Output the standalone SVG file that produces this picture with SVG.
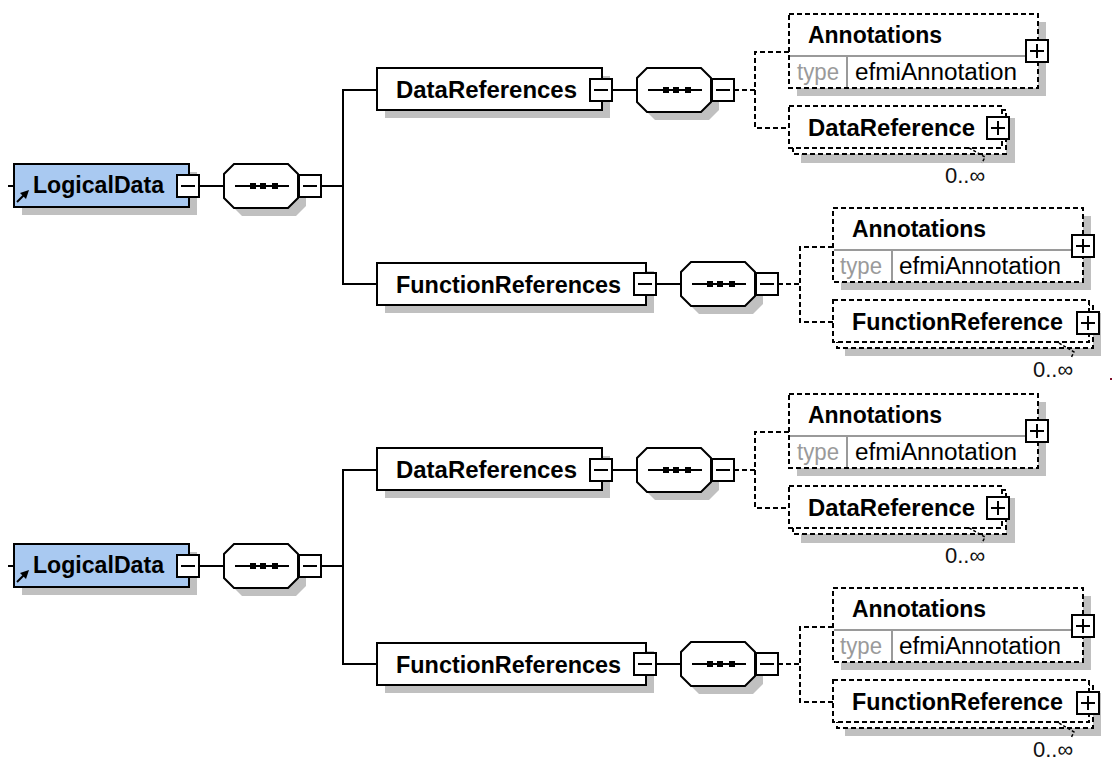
<svg xmlns="http://www.w3.org/2000/svg" width="1112" height="761" viewBox="0 0 1112 761">
<style>
.ln{stroke:#000;stroke-width:2;fill:none}
.dl{stroke:#000;stroke-width:2;fill:none;stroke-dasharray:5 3}
.box{fill:#fff;stroke:#000;stroke-width:2}
.dbox{fill:#fff;stroke:#000;stroke-width:2;stroke-dasharray:5 3}
.ref{fill:#a9c9f1;stroke:#000;stroke-width:2}
.sh{fill:#c0c0c0}
.sep{stroke:#9a9a9a;stroke-width:2;fill:none}
.b{font-family:"Liberation Sans",Arial,sans-serif;font-weight:bold;font-size:23px;fill:#000}
.r{font-family:"Liberation Sans",Arial,sans-serif;font-size:23px;fill:#000}
.g{font-family:"Liberation Sans",Arial,sans-serif;font-size:23px;fill:#9a9a9a}
.c{font-family:"Liberation Sans",Arial,sans-serif;font-size:22px;fill:#111}
.tick{stroke:#000;stroke-width:1.5;fill:none;stroke-dasharray:3 2}
</style>
<defs>
<g id="minus"><rect x="0" y="0" width="22" height="22" class="box"/><line x1="4" y1="11" x2="18" y2="11" class="ln"/></g>
<g id="plus"><rect x="0" y="0" width="22" height="22" class="box"/><line x1="4" y1="11" x2="18" y2="11" class="ln"/><line x1="11" y1="4" x2="11" y2="18" class="ln"/></g>
<g id="seq">
<path class="sh" d="M18,8 H72 L82,18 V42 L72,52 H18 L8,42 V18 Z"/>
<path class="box" d="M10,0 H64 L74,10 V34 L64,44 H10 L0,34 V10 Z"/>
<line x1="11" y1="22" x2="65" y2="22" class="ln"/>
<rect x="26" y="19" width="6" height="6"/><rect x="36" y="19" width="6" height="6"/><rect x="48" y="19" width="6" height="6"/>
</g>
</defs>
<rect width="1112" height="761" fill="#fff"/>

<g id="half1">
<g id="connectors1">
<line class="ln" x1="8" y1="186" x2="14" y2="186"/>
<line class="ln" x1="199" y1="186" x2="224" y2="186"/>
<line class="ln" x1="321" y1="186" x2="343" y2="186"/>
<polyline class="ln" points="377,90 343,90 343,284 377,284"/>
<line class="ln" x1="612" y1="90" x2="637" y2="90"/>
<line class="ln" x1="656" y1="284" x2="681" y2="284"/>
<line class="dl" x1="734" y1="90" x2="755" y2="90"/>
<polyline class="dl" points="789,52 755,52 755,128 789,128"/>
<line class="dl" x1="778" y1="284" x2="800" y2="284"/>
<polyline class="dl" points="833,247 800,247 800,322 833,322"/>
</g>
<g id="logicaldata1">
<rect class="sh" x="22" y="172" width="175" height="43"/>
<rect class="ref" x="14" y="164" width="175" height="43"/>
<text class="b" x="33" y="193" textLength="131" lengthAdjust="spacingAndGlyphs">LogicalData</text>
<line class="ln" x1="17" y1="202" x2="25" y2="194"/>
<polygon points="29,190 20,193 26,199"/>
<use href="#minus" x="177" y="175"/>
</g>
<g id="seq1">
<use href="#seq" x="224" y="164"/>
<use href="#minus" x="299" y="175"/>
</g>
<g id="datarefs1">
<rect class="sh" x="385" y="76" width="225" height="42"/>
<rect class="box" x="377" y="68" width="225" height="42"/>
<text class="b" x="396" y="98" textLength="181" lengthAdjust="spacingAndGlyphs">DataReferences</text>
<use href="#minus" x="590" y="79"/>
</g>
<g id="seq2">
<use href="#seq" x="637" y="68"/>
<use href="#minus" x="712" y="79"/>
</g>
<g id="annotations1">
<rect class="sh" x="797" y="22" width="249" height="74"/>
<rect class="dbox" x="789" y="14" width="249" height="74"/>
<line class="sep" x1="790" y1="56" x2="1037" y2="56"/>
<line class="sep" x1="847" y1="56" x2="847" y2="87"/>
<text class="b" x="808" y="43" textLength="134" lengthAdjust="spacingAndGlyphs">Annotations</text>
<text class="g" x="797" y="80" textLength="42" lengthAdjust="spacingAndGlyphs">type</text>
<text class="r" x="855" y="80" textLength="162" lengthAdjust="spacingAndGlyphs">efmiAnnotation</text>
<use href="#plus" x="1026" y="40"/>
</g>
<g id="dataref1">
<rect class="sh" x="801" y="118" width="214" height="45"/>
<rect class="dbox" x="793" y="110" width="213" height="44"/>
<rect class="dbox" x="789" y="106" width="213" height="42"/>
<text class="b" x="808" y="136" textLength="167" lengthAdjust="spacingAndGlyphs">DataReference</text>
<use href="#plus" x="987" y="117"/>
<polyline class="tick" points="969,148 985,157 982,163"/>
<text class="c" x="945" y="183">0..∞</text>
</g>
<g id="funcrefs1">
<rect class="sh" x="385" y="271" width="269" height="42"/>
<rect class="box" x="377" y="263" width="269" height="42"/>
<text class="b" x="396" y="293" textLength="225" lengthAdjust="spacingAndGlyphs">FunctionReferences</text>
<use href="#minus" x="634" y="273"/>
</g>
<g id="seq3">
<use href="#seq" x="681" y="262"/>
<use href="#minus" x="756" y="273"/>
</g>
<g id="annotations2">
<rect class="sh" x="841" y="216" width="250" height="74"/>
<rect class="dbox" x="833" y="208" width="250" height="74"/>
<line class="sep" x1="834" y1="250" x2="1082" y2="250"/>
<line class="sep" x1="892" y1="250" x2="892" y2="281"/>
<text class="b" x="852" y="237" textLength="134" lengthAdjust="spacingAndGlyphs">Annotations</text>
<text class="g" x="840" y="274" textLength="42" lengthAdjust="spacingAndGlyphs">type</text>
<text class="r" x="899" y="274" textLength="162" lengthAdjust="spacingAndGlyphs">efmiAnnotation</text>
<use href="#plus" x="1072" y="235"/>
</g>
<g id="funcref1">
<rect class="sh" x="845" y="313" width="256" height="43"/>
<rect class="dbox" x="837" y="305" width="256" height="43"/>
<rect class="dbox" x="833" y="300" width="256" height="42"/>
<text class="b" x="852" y="330" textLength="211" lengthAdjust="spacingAndGlyphs">FunctionReference</text>
<use href="#plus" x="1077" y="312"/>
<polyline class="tick" points="1059,343 1074,352 1071,358"/>
<text class="c" x="1033" y="377">0..∞</text>
</g>
</g>

<rect x="1110" y="378" width="2" height="2" fill="#80102a"/>

<g id="half2" transform="translate(0,380)">
<g id="connectors2">
<line class="ln" x1="8" y1="186" x2="14" y2="186"/>
<line class="ln" x1="199" y1="186" x2="224" y2="186"/>
<line class="ln" x1="321" y1="186" x2="343" y2="186"/>
<polyline class="ln" points="377,90 343,90 343,284 377,284"/>
<line class="ln" x1="612" y1="90" x2="637" y2="90"/>
<line class="ln" x1="656" y1="284" x2="681" y2="284"/>
<line class="dl" x1="734" y1="90" x2="755" y2="90"/>
<polyline class="dl" points="789,52 755,52 755,128 789,128"/>
<line class="dl" x1="778" y1="284" x2="800" y2="284"/>
<polyline class="dl" points="833,247 800,247 800,322 833,322"/>
</g>
<g id="logicaldata2">
<rect class="sh" x="22" y="172" width="175" height="43"/>
<rect class="ref" x="14" y="164" width="175" height="43"/>
<text class="b" x="33" y="193" textLength="131" lengthAdjust="spacingAndGlyphs">LogicalData</text>
<line class="ln" x1="17" y1="202" x2="25" y2="194"/>
<polygon points="29,190 20,193 26,199"/>
<use href="#minus" x="177" y="175"/>
</g>
<g id="seq4">
<use href="#seq" x="224" y="164"/>
<use href="#minus" x="299" y="175"/>
</g>
<g id="datarefs2">
<rect class="sh" x="385" y="76" width="225" height="42"/>
<rect class="box" x="377" y="68" width="225" height="42"/>
<text class="b" x="396" y="98" textLength="181" lengthAdjust="spacingAndGlyphs">DataReferences</text>
<use href="#minus" x="590" y="79"/>
</g>
<g id="seq5">
<use href="#seq" x="637" y="68"/>
<use href="#minus" x="712" y="79"/>
</g>
<g id="annotations3">
<rect class="sh" x="797" y="22" width="249" height="74"/>
<rect class="dbox" x="789" y="14" width="249" height="74"/>
<line class="sep" x1="790" y1="56" x2="1037" y2="56"/>
<line class="sep" x1="847" y1="56" x2="847" y2="87"/>
<text class="b" x="808" y="43" textLength="134" lengthAdjust="spacingAndGlyphs">Annotations</text>
<text class="g" x="797" y="80" textLength="42" lengthAdjust="spacingAndGlyphs">type</text>
<text class="r" x="855" y="80" textLength="162" lengthAdjust="spacingAndGlyphs">efmiAnnotation</text>
<use href="#plus" x="1026" y="40"/>
</g>
<g id="dataref2">
<rect class="sh" x="801" y="118" width="214" height="45"/>
<rect class="dbox" x="793" y="110" width="213" height="44"/>
<rect class="dbox" x="789" y="106" width="213" height="42"/>
<text class="b" x="808" y="136" textLength="167" lengthAdjust="spacingAndGlyphs">DataReference</text>
<use href="#plus" x="987" y="117"/>
<polyline class="tick" points="969,148 985,157 982,163"/>
<text class="c" x="945" y="183">0..∞</text>
</g>
<g id="funcrefs2">
<rect class="sh" x="385" y="271" width="269" height="42"/>
<rect class="box" x="377" y="263" width="269" height="42"/>
<text class="b" x="396" y="293" textLength="225" lengthAdjust="spacingAndGlyphs">FunctionReferences</text>
<use href="#minus" x="634" y="273"/>
</g>
<g id="seq6">
<use href="#seq" x="681" y="262"/>
<use href="#minus" x="756" y="273"/>
</g>
<g id="annotations4">
<rect class="sh" x="841" y="216" width="250" height="74"/>
<rect class="dbox" x="833" y="208" width="250" height="74"/>
<line class="sep" x1="834" y1="250" x2="1082" y2="250"/>
<line class="sep" x1="892" y1="250" x2="892" y2="281"/>
<text class="b" x="852" y="237" textLength="134" lengthAdjust="spacingAndGlyphs">Annotations</text>
<text class="g" x="840" y="274" textLength="42" lengthAdjust="spacingAndGlyphs">type</text>
<text class="r" x="899" y="274" textLength="162" lengthAdjust="spacingAndGlyphs">efmiAnnotation</text>
<use href="#plus" x="1072" y="235"/>
</g>
<g id="funcref2">
<rect class="sh" x="845" y="313" width="256" height="43"/>
<rect class="dbox" x="837" y="305" width="256" height="43"/>
<rect class="dbox" x="833" y="300" width="256" height="42"/>
<text class="b" x="852" y="330" textLength="211" lengthAdjust="spacingAndGlyphs">FunctionReference</text>
<use href="#plus" x="1077" y="312"/>
<polyline class="tick" points="1059,343 1074,352 1071,358"/>
<text class="c" x="1033" y="377">0..∞</text>
</g>
</g>
</svg>
